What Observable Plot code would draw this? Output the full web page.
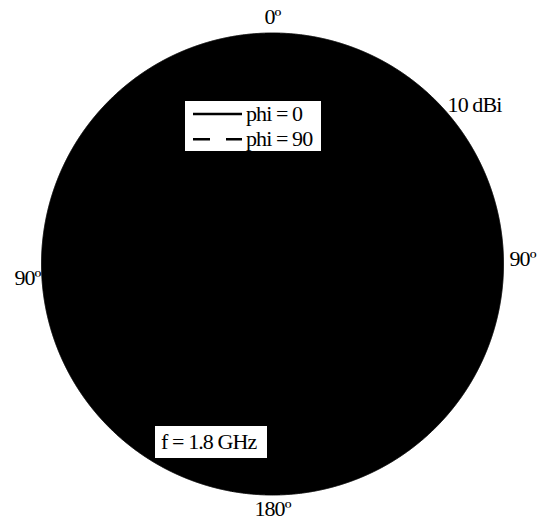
<!DOCTYPE html>
<html>
<head>
<meta charset="utf-8">
<script src="https://cdn.jsdelivr.net/npm/d3@7"></script>
<script src="https://cdn.jsdelivr.net/npm/@observablehq/plot@0.6"></script>
<style>
  html, body { margin: 0; padding: 0; background: #fff; }
  #chart { position: relative; width: 547px; height: 526px; }
  #chart > svg { position: absolute; left: 0; top: 0; }
</style>
</head>
<body>
<div id="chart"></div>
<script>
// Radial axis of the gain pattern, in dBi (centre to outer ring)
const gainMin = -30;
const gainMax = 10;

// Outer ring of the polar grid and its label
const ringLevels = [10];
const ringLabel = "10 dBi";
const ringLabelAngle = 52;

// Theta tick labels (0 at the top, 180 at the bottom)
const thetaAngles = [0, 90, 180, 270];
const thetaLabels = ["0º", "90º", "180º", "90º"];

// Legend entries: the two cut planes of the pattern
const legendNames = ["phi = 0", "phi = 90"];
const freqLabel = "f = 1.8 GHz";

const font = '"Liberation Serif", "Times New Roman", serif';
const W = 547, H = 526;

// gain (dBi) -> angular distance from the pole of the projection
const radiusDeg = g => (g - gainMin) / (gainMax - gainMin) * 80;
// theta (0 at top, clockwise) -> longitude in the polar view
const lon = theta => 180 - theta;
const ring = g => d3.geoCircle().center([0, 90]).radius(radiusDeg(g)).precision(0.1)();

const ticks = thetaAngles.map((a, i) => ({angle: a, label: thetaLabels[i]}));
const textStyle = {fontSize: 22, fontFamily: font, fill: "black", clip: false};

const tickText = (i, opts) => Plot.text([ticks[i]], {
  x: d => lon(d.angle),
  y: () => 90 - radiusDeg(gainMax),
  text: "label",
  ...textStyle,
  ...opts
});

const chart = Plot.plot({
  width: W,
  height: H,
  marginTop: 32,
  marginBottom: 31,
  marginLeft: 41,
  marginRight: 44,
  projection: {
    type: "azimuthal-equidistant",
    rotate: [0, -90],
    domain: ring(gainMax),
    clip: false
  },
  marks: [
    Plot.geo(ringLevels, {
      geometry: ring,
      fill: "black",
      stroke: "black"
    }),
    tickText(0, {dy: -16.5}),
    tickText(1, {textAnchor: "start", dx: 6, dy: -5.5}),
    tickText(2, {dy: 14}),
    tickText(3, {textAnchor: "end", dx: -1, dy: 13.5}),
    Plot.text(ringLevels, {
      x: () => lon(ringLabelAngle),
      y: g => 90 - radiusDeg(g),
      text: () => ringLabel,
      textAnchor: "start",
      dx: -7,
      dy: -17,
      ...textStyle
    })
  ]
});

const root = document.getElementById("chart");
root.appendChild(chart);
d3.select(chart).selectAll("text").attr("letter-spacing", "-0.9");

// Annotation layer: legend box and frequency note
const overlay = d3.select(root).append("svg")
  .attr("width", W).attr("height", H)
  .style("pointer-events", "none")
  .attr("font-family", font)
  .attr("font-size", 22)
  .attr("letter-spacing", "-0.9");

const legend = overlay.append("g").attr("transform", "translate(184.5,100.5)");
legend.append("rect")
  .attr("width", 137).attr("height", 51)
  .attr("fill", "white").attr("stroke", "black").attr("stroke-width", 1);
legendNames.forEach((name, i) => {
  const y = 13.5 + i * 25.3;
  legend.append("line")
    .attr("x1", 8.5).attr("x2", 57.5).attr("y1", y).attr("y2", y)
    .attr("stroke", "black").attr("stroke-width", 2.6)
    .attr("stroke-dasharray", i === 0 ? null : "17,16");
  legend.append("text")
    .attr("x", 61.5).attr("y", y).attr("dy", "0.32em")
    .text(name);
});

const note = overlay.append("g").attr("transform", "translate(154.5,425.5)");
note.append("rect")
  .attr("width", 113).attr("height", 33)
  .attr("fill", "white").attr("stroke", "black").attr("stroke-width", 1);
note.append("text")
  .attr("x", 6.5).attr("y", 16).attr("dy", "0.32em")
  .text(freqLabel);
</script>
</body>
</html>
